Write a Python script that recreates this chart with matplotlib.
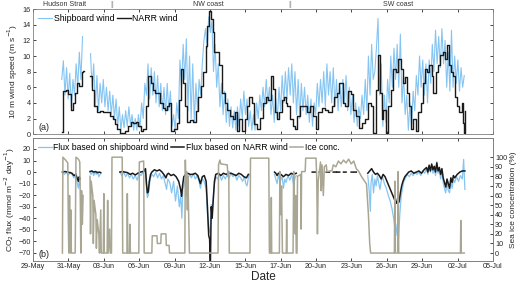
import numpy as np
import matplotlib.pyplot as plt

plt.rcParams['font.family'] = ['Liberation Sans', 'DejaVu Sans']

# x in plot units: 0 = left edge (29-May tick), 36 = right edge (05-Jul tick)
XMAX = 36
tick_labels = ['29-May', '31-May', '03-Jun', '06-Jun', '09-Jun', '12-Jun', '15-Jun',
               '17-Jun', '20-Jun', '23-Jun', '26-Jun', '29-Jun', '02-Jul', '05-Jul']

# cruise legs marked above panel (a)
leg_x = [2.5, 6.2, 13.7, 20.1, 28.6]
leg_labels = ['Hudson Strait', '||', 'NW coast', '||', 'SW coast']

# shipboard wind, 8 values per day starting at x = 2.0 (m/s)
nan = np.nan
ship_wind = [
    nan, nan, 7.0, 9.4, 5.0, 8.5, 4.5, 7.8,      # 2
    3.5, 7.0, 5.0, 9.0, 6.0, 10.5, 7.0, 12.5,    # 3
    nan, nan, nan, nan, 10.3, 6.0, 9.0, 3.5,     # 4
    7.5, 3.0, 6.5, 4.0, 7.0, 3.5, 6.0, 3.0,      # 5
    5.5, 2.5, 5.0, 2.0, 4.5, 1.0, 3.5, 0.5,      # 6
    2.5, 0.8, 3.0, 1.0, 3.5, 1.2, 2.5, 0.5,      # 7
    2.0, 0.5, 2.5, 0.8, 4.0, 2.0, 6.5, 5.0,      # 8
    9.0, 4.5, 8.5, 5.0, 8.0, 4.0, 7.5, 3.5,      # 9
    6.5, 3.0, 6.0, 2.5, 6.5, 3.0, 5.5, 1.0,      # 10
    2.5, 0.5, 4.0, 2.0, 9.5, 6.0, 11.5, 7.0,     # 11
    12.2, 3.0, 10.0, 2.0, 9.0, 1.5, 6.5, 3.0,    # 12
    7.0, 5.0, 9.0, 12.0, 13.5, 11.0, 15.0, 13.0, # 13
    14.5, 8.0, 11.5, 6.0, 9.0, 3.5, 6.5, 2.5,    # 14
    5.5, 1.5, 4.5, 1.0, 3.5, 0.8, 3.0, 0.5,      # 15
    3.5, 1.0, 4.5, 2.0, 5.5, 2.5, 4.5, 1.0,      # 16
    3.0, 0.5, 2.5, 0.5, 4.0, 2.0, 5.0, 3.0,      # 17
    6.0, 3.5, 7.0, 4.0, 6.0, 2.5, 5.0, 1.5,      # 18
    4.5, 2.0, 6.0, 3.0, 7.5, 4.0, 8.0, 4.5,      # 19
    8.5, 5.0, 9.0, 4.0, 8.0, 2.5, 7.0, 2.0,      # 20
    6.5, 3.0, 6.0, 2.5, 5.0, 1.5, 4.5, 1.0,      # 21
    4.0, 2.5, 6.5, 3.5, 7.0, 4.0, 8.0, 3.5,      # 22
    9.0, 5.0, 8.0, 4.0, 8.5, 3.5, 7.0, 3.0,      # 23
    6.5, 3.5, 7.0, 4.0, 7.5, 3.0, 6.0, 2.5,      # 24
    5.0, 1.5, 4.0, 1.0, 3.5, 2.0, 5.0, 2.5,      # 25
    7.0, 3.0, 10.0, 5.0, 11.5, 7.0, 8.0, 11.0,   # 26
    14.8, 5.0, 9.0, 1.0, 5.0, 1.5, 7.0, 4.0,     # 27
    10.0, 6.0, 11.0, 7.0, 11.5, 6.0, 12.8, 4.0,  # 28
    7.5, 2.5, 5.0, 0.5, 4.0, 1.0, 5.5, 3.0,      # 29
    7.5, 5.0, 10.0, 6.0, 9.5, 5.0, 9.0, 4.0,     # 30
    9.5, 6.5, 11.5, 8.0, 13.3, 9.0, 12.5, 8.5,   # 31
    13.5, 9.0, 12.0, 6.0, 10.5, 5.5, 13.3, 6.0,  # 32
    10.0, 6.5, 9.5, 5.5, 8.5, 6.0, 7.5, nan,     # 33
]
ship_wind_t = 2.0 + 0.125 * np.arange(len(ship_wind))

# NARR wind (3-hourly steps)
narr_t = [2.30, 2.38, 2.55, 2.75, 2.95, 3.10, 3.28, 3.45, 3.62, 3.80, 3.94, 3.98,
          4.46, 4.60, 4.75, 4.98, 5.25, 5.50, 5.75, 6.02, 6.23, 6.42, 6.60, 6.81,
          7.20, 7.46, 7.64, 7.85, 8.06, 8.24, 8.42, 8.63, 8.84, 9.02, 9.21, 9.36,
          9.55, 9.74, 9.94, 10.15, 10.33, 10.46, 10.67, 10.83, 11.03, 11.24, 11.42,
          11.58, 11.71, 11.89, 12.05, 12.30, 12.55, 12.75, 12.93, 13.12, 13.33,
          13.53, 13.64, 13.80, 13.93, 14.06, 14.19, 14.37, 14.58, 14.76, 15.02,
          15.20, 15.41, 15.67, 15.80, 15.99, 16.14, 16.32, 16.58, 16.72, 16.93,
          17.11, 17.29, 17.50, 17.76, 18.02, 18.23, 18.41, 18.59, 18.75, 18.93,
          19.06, 19.27, 19.45, 19.64, 19.79, 19.90, 20.11, 20.32, 20.50, 20.68,
          20.89, 21.15, 21.41, 21.67, 21.93, 22.14, 22.32, 22.59, 22.85, 23.11,
          23.37, 23.55, 23.76, 23.97, 24.28, 24.45, 24.67, 24.86, 25.01, 25.28,
          25.54, 25.72, 25.98, 26.24, 26.42, 26.63, 26.84, 27.02, 27.15, 27.28,
          27.41, 27.62, 27.80, 27.99, 28.20, 28.40, 28.59, 28.77, 28.93, 29.11,
          29.29, 29.45, 29.58, 29.76, 29.97, 30.15, 30.33, 30.49, 30.67, 30.86,
          31.01, 31.20, 31.33, 31.53, 31.72, 31.85, 32.06, 32.24, 32.42, 32.55,
          32.68, 32.84, 33.02, 33.20, 33.36, 33.54, 33.67, 33.72, 33.80]
narr_wind = [0.3, 5.5, 5.7, 5.1, 3.1, 4.0, 5.3, 6.6, 6.2, 7.9, 8.1, nan,
             7.5, 5.7, 3.6, 2.8, 2.9, 2.8, 2.8, 2.3, 1.9, 1.3, 0.6, 0.2,
             0.4, 1.0, 1.6, 1.4, 1.6, 1.0, 0.4, 0.6, 3.6, 7.5, 6.6, 5.7,
             5.3, 5.3, 4.0, 3.3, 3.1, 3.6, 4.0, 0.4, 0.6, 1.4, 4.4,
             8.3, 6.6, 3.6, 1.6, 1.8, 1.5, 3.0, 4.8, 6.2, 8.0,
             11.3, 13.9, 15.7, 14.8, 13.1, 10.5, 10.5, 8.8, 5.3, 4.0,
             3.1, 2.3, 1.9, 2.8, 0.4, 1.9, 0.4, 1.9, 3.6, 4.8,
             4.0, 1.3, 0.6, 2.1, 4.0, 4.8, 4.4, 7.5, 5.8, 2.8,
             1.9, 2.8, 4.4, 4.8, 4.0, 3.6, 1.9, 1.0, 0.6, 2.3,
             3.6, 3.6, 2.8, 3.6, 2.3, 0.6, 2.8, 3.3, 3.1, 2.8,
             3.6, 4.8, 5.3, 6.6, 4.0, 3.6, 5.5, 5.1, 3.1, 2.3,
             0.8, 1.4, 1.9, 4.0, 3.6, 0.2, 5.7, 10.1, 5.3, 1.9,
             3.1, 0.2, 3.6, 5.7, 8.3, 7.9, 9.6, 8.3, 6.6, 7.3,
             5.3, 3.6, 0.6, 1.9, 0.4, 2.8, 4.0, 6.6, 8.3, 7.9,
             8.8, 7.5, 5.3, 7.9, 8.8, 10.1, 10.5, 9.6, 11.4, 8.8,
             7.9, 7.5, 4.8, 3.6, 2.8, 4.0, 1.4, 0.2, 3.0]

# CO2 flux from shipboard wind (mmol m-2 day-1)
ship_flux_t = [2.30, 2.45, 2.60, 2.75, 2.90, 3.05, 3.20, 3.35, 3.45, 3.55, 3.62, 3.68, 3.70,
               4.46, 4.55, 4.65, 4.75, 4.85, 4.95, 5.05, 5.15, 5.30, 5.31,
               6.80, 6.95, 7.10, 7.25, 7.40, 7.55, 7.70, 7.85, 8.00, 8.15, 8.30, 8.45, 8.60,
               8.70, 8.80, 8.88, 8.95, 9.02, 9.10, 9.20, 9.30, 9.45, 9.60, 9.75, 9.90,
               10.05, 10.20, 10.35, 10.45, 10.55, 10.70, 10.85, 11.00, 11.15, 11.30,
               11.45, 11.55, 11.65, 11.72, 11.85, 11.95, 12.10, 12.25, 12.40, 12.55,
               12.70, 12.85, 13.00, 13.10, 13.25, 13.40, 13.55, 13.65, 13.75, 13.82,
               13.88, 13.95, 14.02, 14.10, 14.20, 14.30, 14.45, 14.60, 14.75, 14.90,
               15.05, 15.20, 15.35, 15.50, 15.65, 15.80, 15.95, 16.10, 16.25, 16.40,
               16.55, 16.65, 16.75, 16.85, 16.95, 17.00,
               18.90, 19.00, 19.10, 19.20, 19.35, 19.50, 19.60, 19.70, 19.80, 19.95,
               20.10, 20.25, 20.40, 20.50, 20.60, 20.65,
               26.20, 26.30, 26.40, 26.45, 26.55, 26.65, 26.75, 26.85, 26.95, 27.05,
               27.15, 27.25, 27.35, 27.50, 27.65, 27.80, 27.95, 28.10, 28.25, 28.40,
               28.50, 28.60, 28.70, 28.80, 28.90, 29.00, 29.15, 29.30, 29.45, 29.60,
               29.75, 29.90, 30.05, 30.20, 30.35, 30.50, 30.65, 30.80, 30.90, 31.00,
               31.10, 31.20, 31.30, 31.40, 31.50, 31.60, 31.70, 31.80, 31.90, 32.00,
               32.10, 32.20, 32.30, 32.40, 32.50, 32.60, 32.70, 32.80, 32.90, 33.00,
               33.15, 33.30, 33.45, 33.60, 33.70, 33.80]
ship_flux = [0, -2, 0, -3, 0, -2, -5, -1, -9, -14, -5, -12, nan,
             0, -2, 1, -3, 0, -2, 0, -4, -1, nan,
             0, -3, 0, -4, -1, -5, -2, -6, -3, -7, -1, -3, 0,
             0, 2, -14, -22, -20, -12, -5, -2, -4, 0, -5, -1,
             -6, -3, -10, -15, -6, -9, -18, -8, -25, -12,
             -30, -20, -40, -15, -10, -3, -6, -2, -5, -1,
             -6, -3, -8, -14, -6, -8, -15, -35, -50, -52,
             -45, -28, -35, -22, -10, -4, -6, -2, -7, -3,
             -6, -2, -5, -1, -4, -2, -7, -3, -5, -8,
             -4, -10, -12, -5, -2, nan,
             -2, -6, -10, -3, -8, -4, -14, -6, -9, -3,
             -7, -2, -12, -5, -3, nan,
             -3, -15, -34, -10, -2, -18, -6, -12, -3, -9,
             -15, -8, -4, -10, -14, -20, -25, -32, -42, -55,
             -45, -58, -38, -22, -15, -9, -5, -2, -4, -1,
             -3, 0, -2, 0, -3, 1, -1, 3, -2, 5,
             0, 6, -1, 4, -3, 9, -1, 2, -6, 1,
             -9, -14, -18, -8, -16, -18, -8, -14, -6, -9,
             -4, -8, -3, -6, 11, -15]

# CO2 flux from NARR wind
narr_flux_t = [2.30, 2.50, 2.70, 2.90, 3.05, 3.20, 3.35, 3.45, 3.55, 3.62, 3.68, 3.70,
               4.46, 4.60, 4.75, 4.90, 5.05, 5.20, 5.30, 5.31,
               6.80, 7.00, 7.20, 7.40, 7.60, 7.80, 8.00, 8.20, 8.40, 8.60,
               8.70, 8.80, 8.88, 8.95, 9.02, 9.10, 9.20, 9.30, 9.50, 9.70, 9.90,
               10.10, 10.30, 10.40, 10.50, 10.60, 10.80, 11.00, 11.20, 11.40, 11.55,
               11.63, 11.70, 11.80, 11.95, 12.10, 12.30, 12.50, 12.70, 12.90, 13.10,
               13.25, 13.40, 13.55, 13.65, 13.75, 13.82, 13.88, 13.95, 14.02, 14.10,
               14.20, 14.30, 14.50, 14.70, 14.90, 15.10, 15.30, 15.50, 15.70, 15.90,
               16.10, 16.30, 16.50, 16.70, 16.85, 17.00,
               18.90, 19.00, 19.10, 19.20, 19.40, 19.60, 19.80, 20.00, 20.20, 20.40,
               20.60, 20.65,
               21.85, 22.10, 22.11, 22.40, 22.62, 22.63, 22.95, 23.20, 23.21, 23.50,
               23.70, 23.71, 23.80, 24.00, 24.01, 24.30, 24.50, 24.51, 24.90, 25.30,
               25.31,
               26.20, 26.35, 26.50, 26.65, 26.80, 26.95, 27.10, 27.25, 27.40, 27.55,
               27.70, 27.85, 28.00, 28.15, 28.30, 28.45, 28.55, 28.65, 28.75, 28.85,
               28.95, 29.10, 29.25, 29.40, 29.60, 29.80, 30.00, 30.20, 30.40, 30.60,
               30.80, 30.90, 31.00, 31.10, 31.20, 31.30, 31.40, 31.50, 31.60, 31.70,
               31.80, 31.90, 32.00, 32.10, 32.20, 32.30, 32.40, 32.50, 32.60, 32.70,
               32.80, 32.90, 33.00, 33.20, 33.40, 33.60, 33.80]
narr_flux = [0, 0.5, 0, -0.5, -1, -3, -2, -5, -8, -4, -6, nan,
             0.5, 1, 0, 0.5, -0.5, 0, -0.5, nan,
             0, 0.5, 0, -0.5, -2, -1, -2.5, -1, 0, 0.5,
             1, 3, -10, -18, -17, -8, -2, 0, 2, 1, 2,
             0, -3, -5, -2, -1, -3, -2, -4, -8, -15,
             -21, -12, -4, -2, -1, -2, -2, -1, -3, -10,
             -4, -3, -8, -30, -55, -58, -80, -30, -40, -25,
             -8, -2, -1, -3, -1, -2, -1, -1, -2, -3,
             -1, -2, -4, -5, -2, nan,
             0, -1, -3, -1, -2, -4, -2, -3, -1, -2,
             -1, nan,
             0, 0, nan, 0, 0, nan, 0, 0, nan, 0,
             0, nan, 0, 0, nan, 0, 0, nan, 0, 0,
             nan,
             -1, 1, 3, 0, -2, -1, -3, -6, -2, -4,
             -8, -12, -16, -20, -24, -27, -22, -26, -18, -12,
             -8, -4, -2, 0, 1, -1, 0, 1, -1, 2,
             4, 0, 6, 1, 7, 2, 5, 0, 8, 1,
             4, -2, 3, -5, -9, -13, -6, -10, -14, -5,
             -9, -3, -5, -2, 0, 1, 1]

# sea ice concentration (%)
ice_t = [2.30, 2.34, 2.55, 2.72, 2.76, 2.80, 2.86, 2.90, 2.96, 3.00, 3.30, 3.36, 3.55,
         3.66, 3.70, 3.74, 3.80, 3.86, 3.92, 3.95,
         4.46, 4.50, 4.55, 4.68, 4.72, 4.78, 4.92, 4.96, 5.02, 5.15, 5.20, 5.30, 5.34,
         5.50, 5.54, 5.58, 5.80, 5.84, 5.88, 6.00, 6.04, 6.14, 6.18, 6.98, 7.02,
         7.35, 7.38, 7.42, 7.55, 7.58, 7.62, 8.28, 8.32, 8.66, 8.70,
         9.30, 9.33, 9.70, 9.73, 10.00, 10.03, 10.40, 10.43, 10.65, 10.68,
         11.88, 11.92, 11.98, 12.02, 12.08, 12.12, 12.18, 12.24,
         14.48, 14.52, 14.62, 14.70, 15.20, 15.26, 15.32, 15.36,
         16.98, 17.02, 18.45, 18.50, 18.62, 18.65, 18.68,
         19.28, 19.32, 19.40, 19.45, 19.52, 19.82, 19.85, 19.88,
         20.35, 20.40, 20.45, 20.50, 20.52, 20.56, 20.60, 20.66, 20.70, 20.95,
         20.98, 21.02, 21.30, 21.34, 22.15, 22.20, 22.26, 22.32, 22.50, 22.55,
         22.62, 22.72, 22.80, 22.95, 23.00, 23.40, 23.50, 23.70, 23.90, 24.10,
         24.30, 24.50, 24.70, 24.90, 25.10, 25.30, 25.50, 25.70, 25.90, 26.10,
         26.25, 26.35, 26.42, 28.28, 28.32, 28.36, 28.55, 28.58, 28.62,
         33.45, 33.48, 33.52, 33.75]
ice_conc = [0, 100, 97, 94, 35, 0, 60, 0, 45, 0, 0, 100, 98,
            95, 55, 0, 65, 30, 60, nan,
            80, 20, 75, 60, 10, 55, 40, 5, 35, 20, 0, 45, 0,
            0, 62, 0, 0, 55, 0, 25, 0, 0, 100, 100, 0,
            0, 62, 0, 0, 30, 0, 0, 95, 96, 0,
            0, 18, 18, 10, 10, 20, 20, 8, 8, 0,
            0, 97, 60, 85, 45, 80, 40, 0,
            0, 92, 97, 93, 92, 80, 85, 0,
            0, 99, 99, 0, 0, 58, 0,
            0, 85, 40, 70, 0, 0, 35, 0,
            0, 85, 30, 50, 20, 60, 0, 0, 80, 82,
            25, 85, 85, 99, 99, 80, 20, 75, 95, 65,
            92, 60, 90, 92, 85, 86, 92, 90, 96, 93,
            97, 94, 98, 93, 96, 88, 85, 80, 76, 72,
            40, 10, 0, 0, 75, 0, 0, 85, 0,
            0, 34, 0, 0]

SHIP_C = '#86c5f2'
NARR_C = '#1a1a1a'
ICE_C = '#a9a794'
AX_C = '#808080'
TXT_C = '#262626'

fig = plt.figure(figsize=(5.2, 2.86), dpi=100)
ax1 = fig.add_axes([0.0635, 0.531, 0.8846, 0.437])
ax2 = fig.add_axes([0.0635, 0.0874, 0.8846, 0.430])
ax2r = ax2.twinx()

xticks = np.linspace(0, XMAX, len(tick_labels))

# (a) wind speed
ax1.plot(ship_wind_t, ship_wind, color=SHIP_C, lw=0.8, label='Shipboard wind')
ax1.plot(narr_t, narr_wind, color=NARR_C, lw=1.0, drawstyle='steps-post', label='NARR wind')
ax1.set_xlim(0, XMAX)
ax1.set_ylim(0, 16)
ax1.set_yticks(np.arange(0, 17, 2))
ax1.set_xticks(xticks)
ax1.set_xticklabels([])
ax1.set_ylabel('10 m wind speed (m s$^{-1}$)', fontsize=6, labelpad=2, color=TXT_C)
ax1.tick_params(direction='in', top=True, right=True, length=2.5, width=0.6,
                labelsize=5.2, colors=TXT_C, pad=1.5)
ax1.text(0.012, 0.03, '(a)', transform=ax1.transAxes, fontsize=6.5, color=TXT_C)
ax1.legend(loc='upper left', ncol=2, frameon=False, fontsize=6.3, handlelength=1.6,
           handletextpad=0.2, columnspacing=0.3, borderaxespad=0.15)
for x, lab in zip(leg_x, leg_labels):
    ax1.text(x, 1.008, lab, transform=ax1.get_xaxis_transform(), ha='center', va='bottom',
             fontsize=5 if lab != '||' else 5.5, color='#333333' if lab != '||' else '#999999')

# (b) CO2 flux and sea ice
l1, = ax2.plot(ship_flux_t, ship_flux, color=SHIP_C, lw=0.9, label='Flux based on shipboard wind')
l2, = ax2.plot(narr_flux_t, narr_flux, color=NARR_C, lw=1.1, label='Flux based on NARR wind')
l3, = ax2r.plot(ice_t, ice_conc, color=ICE_C, lw=1.1, label='Ice conc.')
ax2.set_xlim(0, XMAX)
ax2.set_ylim(-77, 29.5)
ax2.set_yticks(np.arange(-70, 21, 10))
ax2.set_xticks(xticks)
ax2.set_xticklabels(tick_labels)
ax2r.set_ylim(-8.3, 120)
ax2r.set_yticks(np.arange(0, 101, 10))
ax2.set_ylabel('CO$_2$ flux (mmol m$^{-2}$ day$^{-1}$)', fontsize=6, labelpad=1, color=TXT_C)
ax2r.set_ylabel('Sea ice concentration (%)', fontsize=6, labelpad=2, color=TXT_C)
ax2.set_xlabel('Date', fontsize=8.5, labelpad=1, color=TXT_C)
ax2.tick_params(direction='in', top=True, length=2.5, width=0.6, labelsize=5.2,
                colors=TXT_C, pad=1.5)
ax2r.tick_params(direction='in', length=2.5, width=0.6, labelsize=5.2, colors=TXT_C, pad=1.5)
ax2.text(0.012, 0.03, '(b)', transform=ax2.transAxes, fontsize=6.5, color=TXT_C)
ax2r.legend(handles=[l1, l2, l3], loc='upper left', ncol=3, frameon=False, fontsize=6.2,
            handlelength=1.6, handletextpad=0.2, columnspacing=0.2, borderaxespad=0.15)

for ax in (ax1, ax2, ax2r):
    for sp in ax.spines.values():
        sp.set_color(AX_C)
        sp.set_linewidth(0.6)

fig.savefig('out.png', dpi=100)
